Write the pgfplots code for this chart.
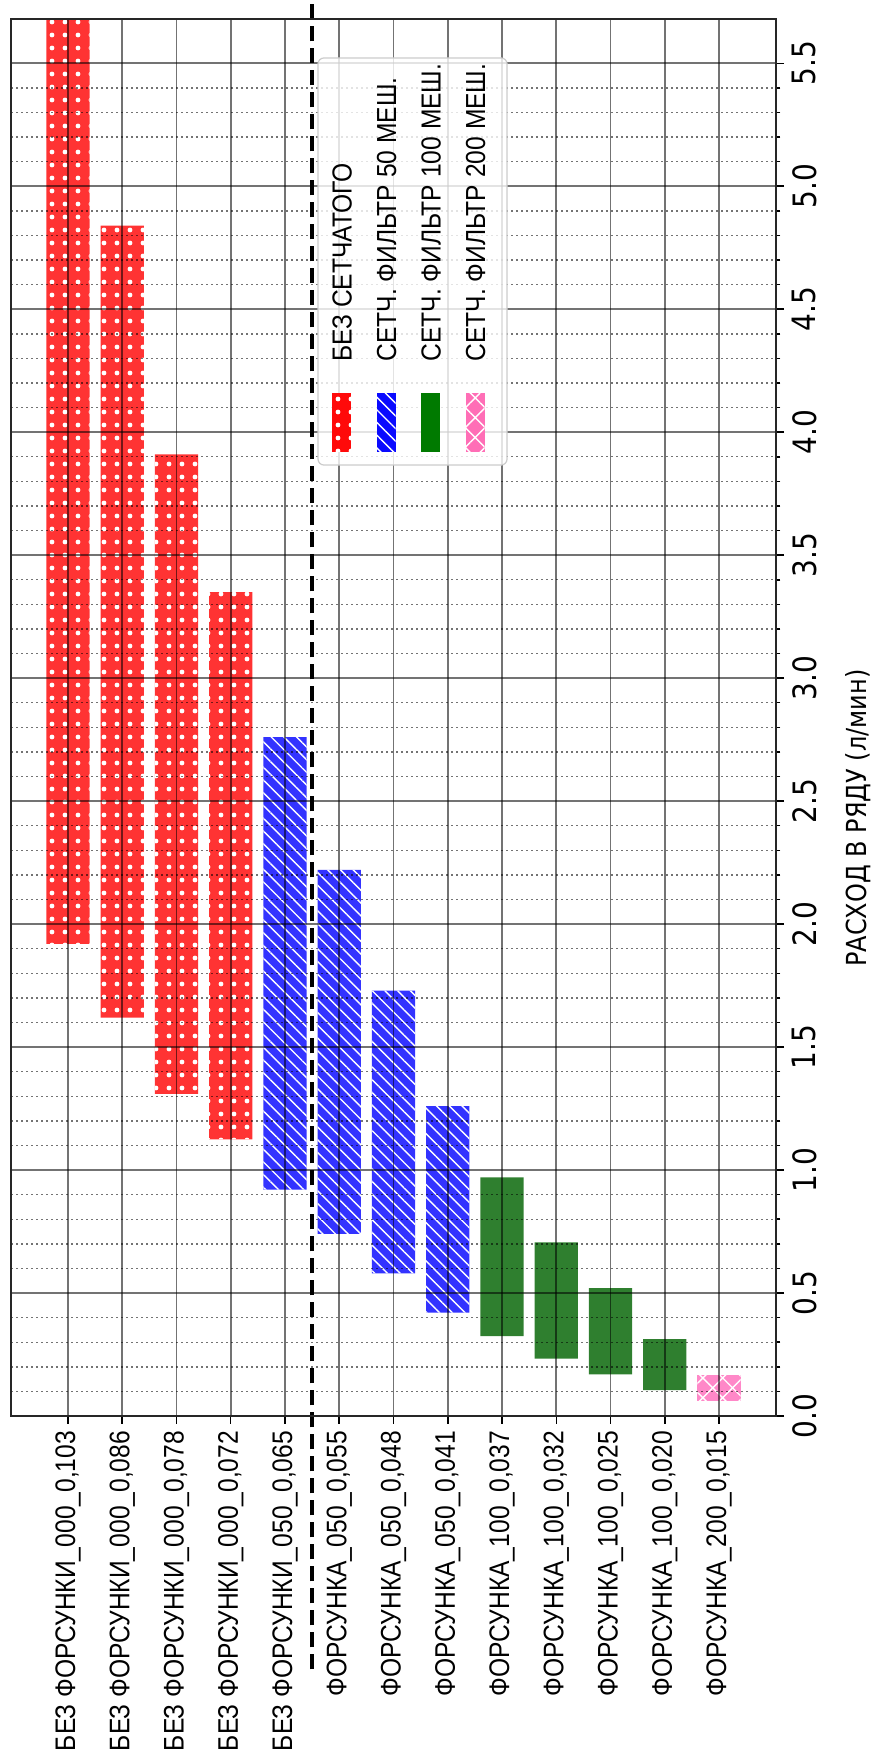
\documentclass[border=0pt]{standalone}
\usepackage{pgfplots}
\pgfplotsset{compat=1.18}
\usepackage{pgfplotstable}
\usetikzlibrary{patterns.meta}
\usepackage{fontspec}
\setmainfont{Liberation Sans}
\newfontfamily\dejavu{DejaVu Sans}
\definecolor{cred}{HTML}{FF3333}
\definecolor{cblue}{HTML}{3333FF}
\definecolor{cgreen}{HTML}{2F7F2F}
\definecolor{cpink}{HTML}{FF88C8}
\definecolor{lred}{HTML}{FF0A0A}
\definecolor{lblue}{HTML}{0A0AFF}
\definecolor{lgreen}{HTML}{007A00}
\definecolor{lpink}{HTML}{FF6EB6}

\pgfplotstableread{
x low high g
0 1.92 5.68 1
1 1.62 4.84 1
2 1.31 3.91 1
3 1.125 3.35 1
4 0.92 2.76 2
5 0.74 2.22 2
6 0.58 1.73 2
7 0.42 1.26 2
8 0.325 0.97 3
9 0.233 0.706 3
10 0.169 0.52 3
11 0.105 0.313 3
12 0.062 0.166 4
}\flow

\tikzset{
  pdots/.style={postaction={pattern={Dots[distance=6.5bp, radius=1.2bp]}, pattern color=white}},
  plines/.style={postaction={pattern={Lines[angle=-45, distance=4.5bp, line width=0.7bp]}, pattern color=white}},
  phatch/.style={postaction={pattern={Hatch[angle=45, distance=7bp, line width=0.7bp]}, pattern color=white}},
  legtext/.style={rotate=90, yscale=1.12, anchor=west, inner sep=0pt, text height=8.9bp, text depth=0pt, font=\fontsize{12.3bp}{14bp}\selectfont},
}

\begin{document}
\begin{tikzpicture}
\useasboundingbox (-5.5bp,-174bp) rectangle (432.5bp,708bp);
\begin{axis}[
  at={(0,0)}, anchor=south west, scale only axis,
  width=382.5bp, height=698.5bp,
  xmin=-1.05, xmax=13.05, ymin=0, ymax=5.68,
  ybar stacked, bar width=0.8,
  clip=false, axis on top,
  xtick={0,...,12},
  xticklabels={{БЕЗ ФОРСУНКИ\_000\_0,103},{БЕЗ ФОРСУНКИ\_000\_0,086},{БЕЗ ФОРСУНКИ\_000\_0,078},{БЕЗ ФОРСУНКИ\_000\_0,072},{БЕЗ ФОРСУНКИ\_050\_0,065},{ФОРСУНКА\_050\_0,055},{ФОРСУНКА\_050\_0,048},{ФОРСУНКА\_050\_0,041},{ФОРСУНКА\_100\_0,037},{ФОРСУНКА\_100\_0,032},{ФОРСУНКА\_100\_0,025},{ФОРСУНКА\_100\_0,020},{ФОРСУНКА\_200\_0,015}},
  ytick={0,0.5,...,5.5}, minor y tick num=4,
  xtick pos=left, ytick pos=right, xticklabel pos=left, yticklabel pos=right,
  tick align=outside, major tick length=4bp, minor tick length=2.2bp,
  tick style={black, line width=0.75bp},
  xmajorgrids, ymajorgrids, yminorgrids,
  major grid style={black, opacity=0.55, line width=0.8bp},
  minor grid style={black, opacity=0.55, line width=0.7bp, dash pattern=on 0.9bp off 1.6bp},
  axis line style={black!85, line width=1bp},
  xticklabel style={rotate=90, yscale=1.15, anchor=east, font=\fontsize{12.3bp}{14bp}\selectfont},
  yticklabel style={rotate=90, yscale=1.15, anchor=north, font=\dejavu\fontsize{14bp}{16bp}\selectfont, /pgf/number format/.cd, fixed, fixed zerofill, precision=1, assume math mode=true},
  ylabel={РАСХОД В РЯДУ (л/мин)},
  every axis y label/.style={at={(rel axis cs:1.107,0.428)}, rotate=90, yscale=1.15, anchor=center, font=\dejavu\fontsize{12bp}{14bp}\selectfont},
  after end axis/.code={
    \draw[draw=black!20, fill=white, fill opacity=0.8, rounded corners=3bp, line width=0.6bp]
      (rel axis cs:0.4013,0.6807) rectangle (rel axis cs:0.6484,0.9721);
    \fill[lred, pdots] (rel axis cs:0.4199,0.6901) rectangle (rel axis cs:0.4447,0.7323);
    \fill[lblue, plines] (rel axis cs:0.4781,0.6901) rectangle (rel axis cs:0.5029,0.7323);
    \fill[lgreen] (rel axis cs:0.5362,0.6901) rectangle (rel axis cs:0.5610,0.7323);
    \fill[lpink, phatch] (rel axis cs:0.5944,0.6901) rectangle (rel axis cs:0.6192,0.7323);
    \node[legtext] at (rel axis cs:0.4323,0.7545) {БЕЗ СЕТЧАТОГО};
    \node[legtext] at (rel axis cs:0.4905,0.7545) {СЕТЧ. ФИЛЬТР 50 МЕШ.};
    \node[legtext] at (rel axis cs:0.5486,0.7545) {СЕТЧ. ФИЛЬТР 100 МЕШ.};
    \node[legtext] at (rel axis cs:0.6068,0.7545) {СЕТЧ. ФИЛЬТР 200 МЕШ.};
  },
]
\addplot[draw=none, fill=none, forget plot] table[x=x, y=low] {\flow};
\addplot[fill=cred, draw=none, pdots]
  table[x=x, y expr={\thisrow{g}==1 ? \thisrow{high}-\thisrow{low} : 0}] {\flow};
\addplot[fill=cblue, draw=none, plines]
  table[x=x, y expr={\thisrow{g}==2 ? \thisrow{high}-\thisrow{low} : 0}] {\flow};
\addplot[fill=cgreen, draw=none]
  table[x=x, y expr={\thisrow{g}==3 ? \thisrow{high}-\thisrow{low} : 0}] {\flow};
\addplot[fill=cpink, draw=none, phatch]
  table[x=x, y expr={\thisrow{g}==4 ? \thisrow{high}-\thisrow{low} : 0}] {\flow};
\addplot[sharp plot, black, line width=2bp, dash pattern=on 7.5bp off 3.5bp, forget plot]
  coordinates {(4.5,-1.03) (4.5,5.76)};
\end{axis}
\end{tikzpicture}
\end{document}
